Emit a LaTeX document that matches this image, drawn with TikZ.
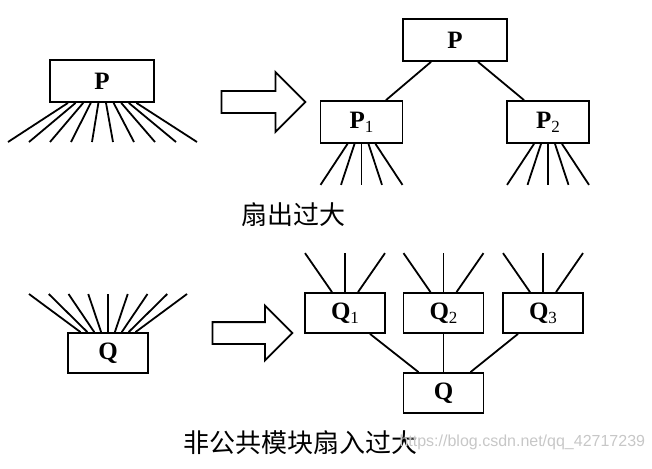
\documentclass[tikz,border=0pt]{standalone}
\usepackage{fontspec}
\setmainfont{Liberation Serif}
\setsansfont{Liberation Sans}
\newfontfamily\cjk{Noto Sans CJK SC}
\usetikzlibrary{shapes.arrows}
\newcommand{\modsub}[1]{\raisebox{-0.35ex}{\fontsize{17}{17}\selectfont\mdseries #1}}

\begin{document}
\begin{tikzpicture}[
  x=1pt,y=-1pt,
  font=\bfseries\fontsize{25}{25}\selectfont,
  mod/.style={rectangle,draw,line width=1.8pt,minimum width=104pt,minimum height=42pt,inner sep=0pt},
  submod/.style={mod,minimum width=82pt},
  qmod/.style={mod,minimum width=80pt,minimum height=40pt},
  wire/.style={line width=1.8pt},
  fatarrow/.style={single arrow,draw,line width=1.8pt,inner sep=10pt,single arrow head extend=19pt},
  caption/.style={font=\cjk\mdseries\fontsize{26}{26}\selectfont}
]
\useasboundingbox (0,0) rectangle (652,468);
% fan-out: one module P, then split into P1 and P2
\node[mod] (pl) at (102,81) {P};
\foreach \i in {0,...,9}{
  \coordinate (pfan\i) at (8+21*\i,142);
  \draw[wire] ([xshift={-34+7.6*\i}]pl.south) -- (pfan\i);
}
\node[fatarrow,minimum height=84pt] (arrowtop) at (258,102) {};
\node[mod] (pr) at (455,40) {P};
\node[submod] (pa) at (361.5,122) {P\modsub{1}};
\node[submod] (pb) at (548,122) {P\modsub{2}};
\draw[wire] ([xshift=-24]pr.south) -- ([xshift=24.5]pa.north);
\draw[wire] ([xshift=23]pr.south) -- ([xshift=-24]pb.north);
\foreach \n in {pa,pb}{
  \foreach \i in {0,...,4}{
    \coordinate (\n fan\i) at ([xshift={-41+20.5*\i},yshift=-41]\n.south);
    \draw[wire] ([xshift={-14+7*\i}]\n.south) -- (\n fan\i);
  }
}
\node[caption] (fanout) at (293,215) {扇出过大};
% fan-in: one module Q, shared by Q1, Q2 and Q3
\node[qmod] (ql) at (108,353) {Q};
\foreach \i in {0,...,8}{
  \coordinate (qfan\i) at (29+19.75*\i,294);
  \draw[wire] ([xshift={-27.5+6.875*\i}]ql.north) -- (qfan\i);
}
\node[fatarrow,minimum height=80pt,single arrow head extend=16.5pt] (arrowbot) at (247,333) {};
\node[qmod] (qa) at (345,313) {Q\modsub{1}};
\node[qmod] (qb) at (443.5,313) {Q\modsub{2}};
\node[qmod] (qc) at (543,313) {Q\modsub{3}};
\node[qmod] (q) at (443.5,393) {Q};
\foreach \n in {qa,qb,qc}{
  \foreach \i in {0,1,2}{
    \coordinate (\n fan\i) at ([xshift={-40+40*\i},yshift=39]\n.north);
    \draw[wire] ([xshift={-13+13*\i}]\n.north) -- (\n fan\i);
  }
}
\draw[wire] ([xshift=25]qa.south) -- ([xshift=-25]q.north);
\draw[wire] (qb.south) -- (q.north);
\draw[wire] ([xshift=-25]qc.south) -- ([xshift=27]q.north);
\node[caption,anchor=west] (fanin) at (180,443) {非公共模块扇入过大};
\node[font=\sffamily\mdseries\fontsize{16}{16}\selectfont,text=black!22,anchor=west] (mark) at (396,442) {https://blog.csdn.net/qq\_42717239};
\end{tikzpicture}
\end{document}
